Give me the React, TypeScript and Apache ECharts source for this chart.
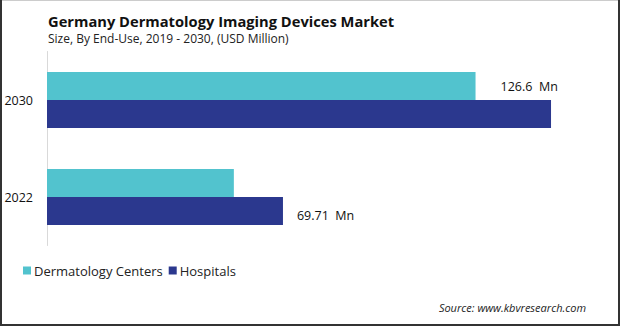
import React, { useEffect, useRef } from "react";
import * as echarts from "echarts";

const categories = ["2022", "2030"];
const dermatologyCenters = [55.2, 126.6];
const hospitals = [69.71, 148.9];
const seriesNames = ["Dermatology Centers", "Hospitals"];
const title = "Germany Dermatology Imaging Devices Market";
const subtitle = "Size, By End-Use, 2019 - 2030, (USD Million)";
const source = "Source: www.kbvresearch.com";

const FONT = "'Open Sans', 'Noto Sans', sans-serif";

export default function App() {
  const ref = useRef<HTMLDivElement>(null);
  useEffect(() => {
    document.body.style.margin = "0";
    const chart = echarts.init(ref.current!, null, { renderer: "svg" });
    chart.setOption({
      animation: false,
      backgroundColor: "#ffffff",
      textStyle: { fontFamily: FONT },
      title: [
        {
          text: title,
          subtext: subtitle,
          left: 43,
          top: 8,
          itemGap: 4,
          textStyle: { fontSize: 14.7, fontWeight: "bold", color: "#111", fontFamily: FONT },
          subtextStyle: { fontSize: 12, color: "#222", fontFamily: FONT },
        },
      ],
      graphic: [
        { type: "rect", shape: { x: 0, y: 0, width: 620, height: 1 }, style: { fill: "#cccccc" } },
        { type: "rect", shape: { x: 0, y: 0, width: 2, height: 326 }, style: { fill: "#333333" } },
        { type: "rect", shape: { x: 618, y: 0, width: 2, height: 326 }, style: { fill: "#333333" } },
        { type: "rect", shape: { x: 0, y: 324, width: 620, height: 2 }, style: { fill: "#333333" } },
        {
          type: "text",
          right: 34,
          top: 302,
          style: { text: source, fontSize: 11, fontStyle: "italic", fill: "#222", fontFamily: FONT },
        },
      ],
      legend: {
        left: 18,
        top: 259,
        itemWidth: 8,
        itemHeight: 8,
        itemGap: 6,
        icon: "rect",
        textStyle: { fontSize: 13, color: "#222", padding: [0, 0, 0, -2], fontFamily: FONT },
        data: seriesNames,
      },
      grid: { left: 47, right: 31.4, top: 51.5, bottom: 326 - 245.5, containLabel: false },
      xAxis: {
        type: "value",
        min: 0,
        max: 160,
        show: false,
      },
      yAxis: {
        type: "category",
        data: categories,
        axisLine: { show: true, lineStyle: { color: "#d9d9d9", width: 1 } },
        axisTick: { show: false },
        axisLabel: { fontSize: 12.5, color: "#111", margin: 14, fontFamily: FONT },
      },
      series: [
        {
          name: seriesNames[0],
          type: "bar",
          data: dermatologyCenters.map((v, i) =>
            i === 1
              ? {
                  value: v,
                  label: {
                    show: true,
                    position: "right",
                    distance: 25,
                    formatter: "{c}  Mn",
                    fontSize: 12.5,
                    color: "#111",
                    fontFamily: FONT,
                  },
                }
              : v
          ),
          itemStyle: { color: "#52C3CE" },
          barWidth: 28,
          barGap: "0%",
          barCategoryGap: "42%",
        },
        {
          name: seriesNames[1],
          type: "bar",
          data: hospitals.map((v, i) =>
            i === 0
              ? {
                  value: v,
                  label: {
                    show: true,
                    position: "right",
                    distance: 14,
                    offset: [0, 4],
                    formatter: "{c}  Mn",
                    fontSize: 12.5,
                    color: "#111",
                    fontFamily: FONT,
                  },
                }
              : v
          ),
          itemStyle: { color: "#2B388E" },
          barWidth: 28,
          barGap: "0%",
          barCategoryGap: "42%",
        },
      ],
    });
    return () => chart.dispose();
  }, []);
  return <div ref={ref} style={{ position: "absolute", left: 0, top: 0, width: 620, height: 326 }} />;
}
